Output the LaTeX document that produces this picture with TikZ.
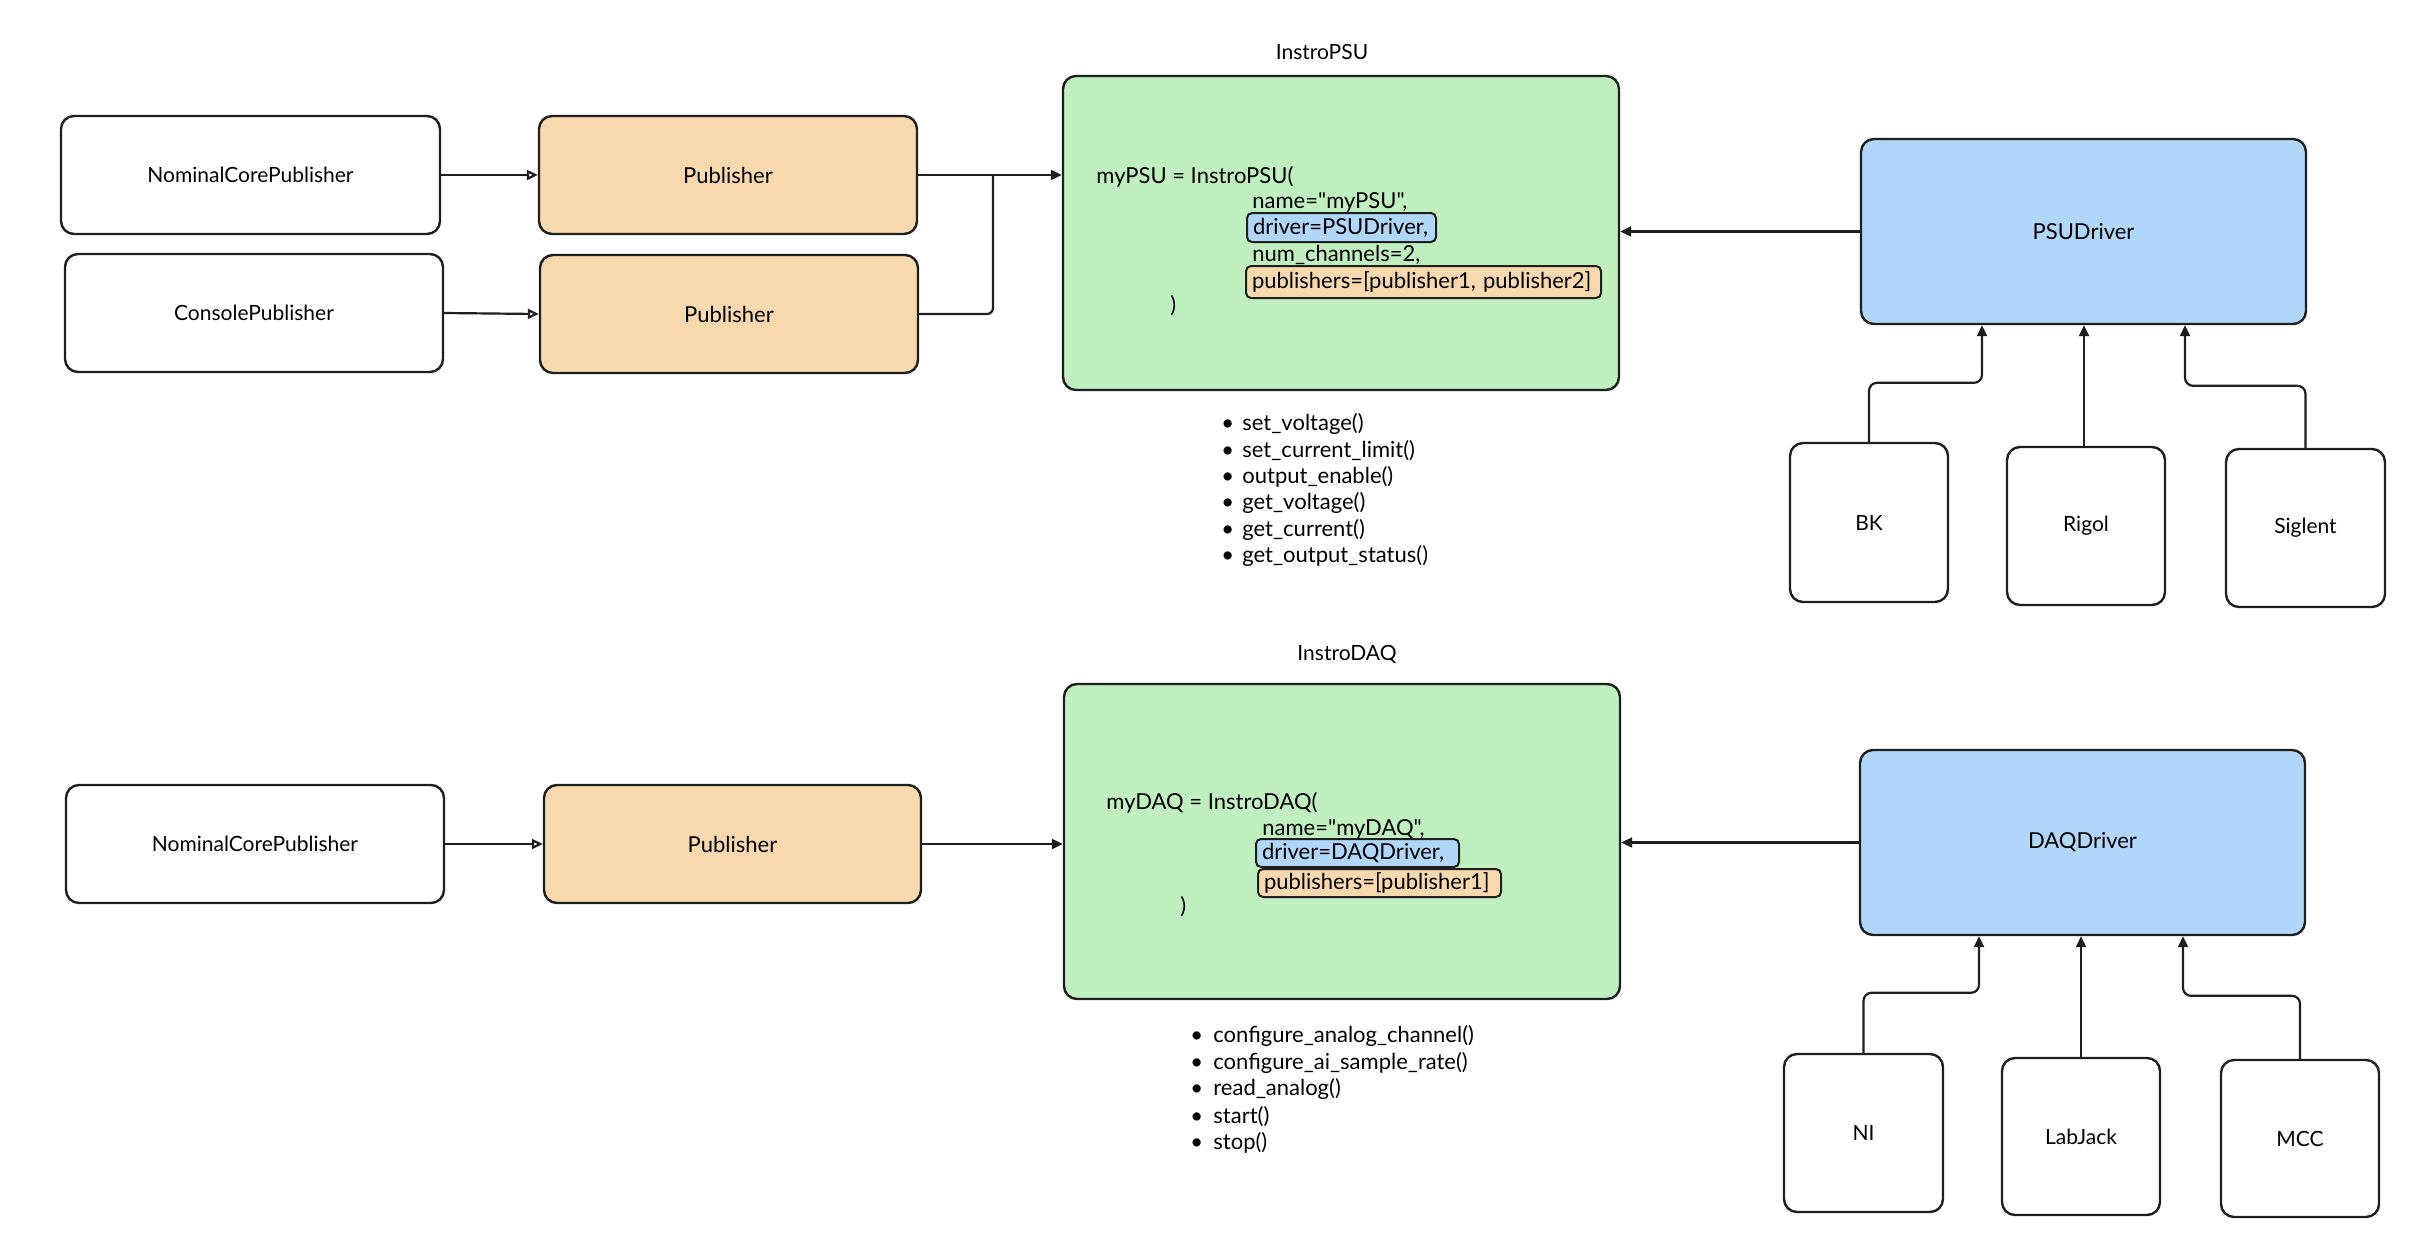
\documentclass[tikz,border=0pt]{standalone}
\usepackage{fontspec}
\setmainfont{Lato}[Ligatures=TeXOff]
\usetikzlibrary{arrows.meta,calc}
\definecolor{grn}{HTML}{C0F0C0}
\definecolor{org}{HTML}{F8D9AD}
\definecolor{blu}{HTML}{B0D6FA}
\definecolor{ink}{HTML}{1E1E1E}
\begin{document}
\begin{tikzpicture}[x=0.5pt,y=-0.5pt,
  box/.style={draw=ink,line width=1.2pt,rounded corners=6.5pt,inner sep=0pt,align=center,font=\fontsize{10.5}{12}\selectfont},
  sz/.style 2 args={minimum width=#1,minimum height=#2},
  pubbox/.style={box,fill=org,font=\fontsize{11}{12}\selectfont},
  drvbox/.style={box,fill=blu,font=\fontsize{11}{12}\selectfont},
  instbox/.style={box,fill=grn},
  code/.style={anchor=base west,inner sep=0pt,font=\fontsize{11}{12}\selectfont},
  hl/.style={draw=ink,line width=1pt,rounded corners=2.5pt,anchor=west,inner xsep=3pt,inner ysep=0pt,align=left,font=\fontsize{11}{12}\selectfont},
  title/.style={inner sep=0pt,font=\fontsize{10.5}{12}\selectfont},
  item/.style={anchor=west,inner sep=0pt,font=\fontsize{11}{12}\selectfont},
  conn/.style={draw=ink,line width=1.1pt},
  arr/.style={conn,-{Triangle[length=5.5pt,width=5pt]}},
  oarr/.style={conn,-{Triangle[open,length=5.5pt,width=5pt]}}
]
\useasboundingbox (0,0) rectangle (2426,1254);

% ---------- PSU section ----------
\node[box,sz={189.5pt}{59pt}] (ncp1) at (250.5,175) {NominalCorePublisher};
\node[box,sz={189pt}{59pt}] (con) at (254,313) {ConsolePublisher};
\node[pubbox,sz={189pt}{59pt}] (pub1) at (728,175) {Publisher};
\node[pubbox,sz={189pt}{59pt}] (pub2) at (729,314) {Publisher};
\node[instbox,sz={278pt}{157pt}] (psu) at (1341,233) {};
\node[title] (psutitle) at (1322,52) {InstroPSU};
\node[drvbox,sz={222.5pt}{92.5pt}] (psudrv) at (2083.5,231.5) {PSUDriver};
\node[box,sz={79pt}{79.5pt}] (bk) at (1869,522.5) {BK};
\node[box,sz={79pt}{79pt}] (rigol) at (2086,526) {Rigol};
\node[box,sz={79.5pt}{79pt}] (siglent) at (2305.5,528) {Siglent};

\node[code] (psu1) at (1096,183) {myPSU = InstroPSU(};
\node[code] (psu2) at (1252,208) {name="myPSU",};
\node[hl,fill=blu,text width=88.5pt,minimum height=14.5pt] (psu3) at (1246,227.5) {driver=PSUDriver,};
\node[code] (psu4) at (1252,261) {num\_channels=2,};
\node[hl,fill=org,text width=171.5pt,minimum height=16pt] (psu5) at (1245,282) {publishers=[publisher1, publisher2]};
\node[code] (psu6) at (1170,312) {)};

\foreach \t [count=\i] in {set\_voltage(),set\_current\_limit(),output\_enable(),get\_voltage(),get\_current(),get\_output\_status()}
  \node[item] (psum\i) at (1221,{424+26.4*(\i-1)}) {\makebox[10.5pt][l]{\textbullet}\t};

\coordinate (m1) at (993,175);
\draw[oarr] (ncp1.east) -- (pub1.west);
\draw[oarr] (con.east) -- (pub2.west);
\draw[arr] (pub1.east) -- (psu.west |- pub1.east);
\draw[conn,rounded corners=3pt] (pub2.east) -| (m1);
\draw[arr] (psudrv.west) -- (psudrv.west -| psu.east);
\draw[arr,rounded corners=4pt] (bk.north) -- ++(0,-59) -| ([xshift=-50.75pt]psudrv.south);
\draw[arr] (rigol.north -| 2084,0) -- (psudrv.south -| 2084,0);
\draw[arr,rounded corners=4pt] (siglent.north) -- ++(0,-62) -| ([xshift=50.75pt]psudrv.south);

% ---------- DAQ section ----------
\node[box,sz={189pt}{59pt}] (ncp2) at (255,844) {NominalCorePublisher};
\node[pubbox,sz={188.5pt}{59pt}] (pub3) at (732.5,844) {Publisher};
\node[instbox,sz={278pt}{157.5pt}] (daq) at (1342,841.5) {};
\node[title] (daqtitle) at (1347,654) {InstroDAQ};
\node[drvbox,sz={222.5pt}{92.5pt}] (daqdrv) at (2082.5,842.5) {DAQDriver};
\node[box,sz={79.5pt}{79pt}] (ni) at (1863.5,1133) {NI};
\node[box,sz={79pt}{78.5pt}] (labjack) at (2081,1136.5) {LabJack};
\node[box,sz={79pt}{78.5pt}] (mcc) at (2300,1138.5) {MCC};

\node[code] (daq1) at (1106,809) {myDAQ = InstroDAQ(};
\node[code] (daq2) at (1262,835) {name="myDAQ",};
\node[hl,fill=blu,text width=95.5pt,minimum height=14pt] (daq3) at (1255,853) {driver=DAQDriver,};
\node[hl,fill=org,text width=115.5pt,minimum height=14pt] (daq4) at (1257,883) {publishers=[publisher1]};
\node[code] (daq5) at (1180,913) {)};

\foreach \t [count=\i] in {configure\_analog\_channel(),configure\_ai\_sample\_rate(),read\_analog(),start(),stop()}
  \node[item] (daqm\i) at (1190,{1036+26.7*(\i-1)}) {\makebox[11.5pt][l]{\textbullet}\t};

\draw[oarr] (ncp2.east) -- (pub3.west);
\draw[arr] (pub3.east) -- (daq.west |- pub3.east);
\draw[arr] (daqdrv.west) -- (daqdrv.west -| daq.east);
\draw[arr,rounded corners=4pt] (ni.north) -- ++(0,-60) -| ([xshift=-51.75pt]daqdrv.south);
\draw[arr] (labjack.north) -- (labjack.north |- daqdrv.south);
\draw[arr,rounded corners=4pt] (mcc.north) -- ++(0,-63) -| ([xshift=50.25pt]daqdrv.south);
\end{tikzpicture}
\end{document}
